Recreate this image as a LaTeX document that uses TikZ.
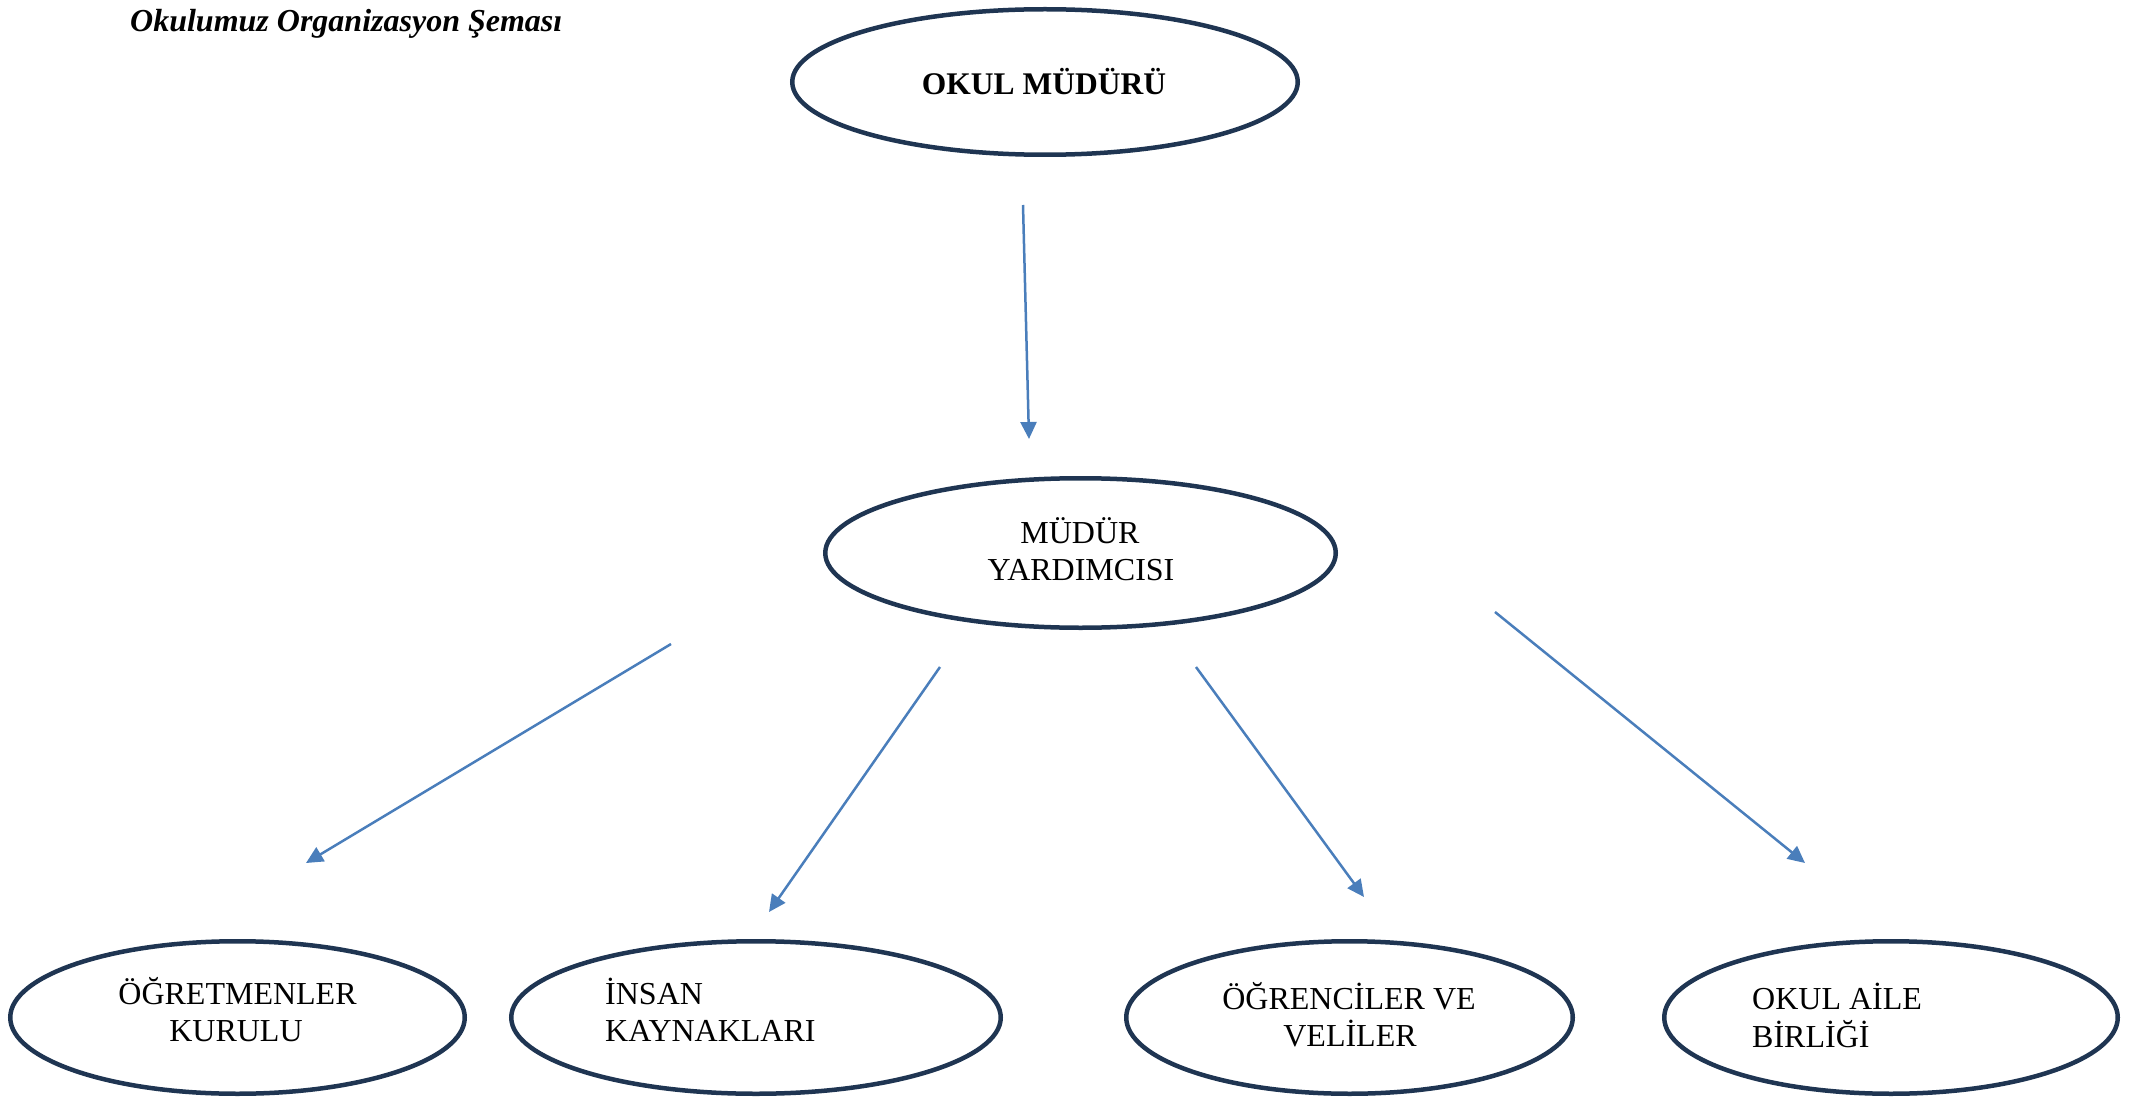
\documentclass[tikz,border=0pt]{standalone}
\usepackage{fontspec}
\setmainfont{Liberation Serif}
\usetikzlibrary{arrows.meta,shapes.geometric}
\definecolor{navy}{HTML}{1F3552}
\definecolor{arrowblue}{HTML}{4A7EBB}
\tikzset{
  oval/.style={draw=navy, line width=4.5pt, ellipse, inner sep=0pt},
  lbl/.style={inner sep=0pt, font=\fontsize{32}{38}\selectfont},
  conn/.style={draw=arrowblue, line width=2.5pt, -{Triangle[length=17pt,width=16pt]}}
}
\begin{document}
\begin{tikzpicture}[x=1pt,y=-1pt]
\useasboundingbox (0,0) rectangle (2156,1102);
% title
\node[inner sep=0pt, anchor=base west, font=\fontsize{32}{38}\selectfont\bfseries\itshape] (title) at (130,32) {Okulumuz Organizasyon Şeması};
% ellipses
\node[oval, minimum width=505.5pt, minimum height=145.5pt] (mudur) at (1045,82) {};
\node[oval, minimum width=510.5pt, minimum height=149.5pt] (yard) at (1080.5,553) {};
\node[oval, minimum width=454.5pt, minimum height=152.5pt] (ogrt) at (237.5,1017.5) {};
\node[oval, minimum width=489.5pt, minimum height=152.5pt] (insan) at (756,1017.5) {};
\node[oval, minimum width=446.5pt, minimum height=152.5pt] (ogrc) at (1349.5,1017.5) {};
\node[oval, minimum width=453.5pt, minimum height=152.5pt] (aile) at (1891,1017.5) {};
% texts
\node[lbl, anchor=base, font=\fontsize{31.5}{38}\selectfont\bfseries] (t1) at (1044,95) {OKUL MÜDÜRÜ};
\node[lbl, anchor=base] (t2a) at (1080,543) {MÜDÜR};
\node[lbl, anchor=base] (t2b) at (1081,580) {YARDIMCISI};
\node[lbl, anchor=base] (t3a) at (237.5,1004) {ÖĞRETMENLER};
\node[lbl, anchor=base] (t3b) at (236,1041) {KURULU};
\node[lbl, anchor=base west] (t4a) at (605,1004) {İNSAN};
\node[lbl, anchor=base west] (t4b) at (605,1041) {KAYNAKLARI};
\node[lbl, anchor=base] (t5a) at (1349,1009) {ÖĞRENCİLER VE};
\node[lbl, anchor=base] (t5b) at (1350,1046) {VELİLER};
\node[lbl, anchor=base west] (t6a) at (1752,1009) {OKUL AİLE};
\node[lbl, anchor=base west] (t6b) at (1752,1047) {BİRLİĞİ};
% arrow endpoints
\coordinate (a1s) at (1023,205); \coordinate (a1e) at (1029,439);
\coordinate (a2s) at (671,644);  \coordinate (a2e) at (306,863);
\coordinate (a3s) at (940,667);  \coordinate (a3e) at (769,912);
\coordinate (a4s) at (1196,667); \coordinate (a4e) at (1364,897);
\coordinate (a5s) at (1495,612); \coordinate (a5e) at (1805,863);
\draw[conn] (a1s) -- (a1e);
\draw[conn] (a2s) -- (a2e);
\draw[conn] (a3s) -- (a3e);
\draw[conn] (a4s) -- (a4e);
\draw[conn] (a5s) -- (a5e);
\end{tikzpicture}
\end{document}
